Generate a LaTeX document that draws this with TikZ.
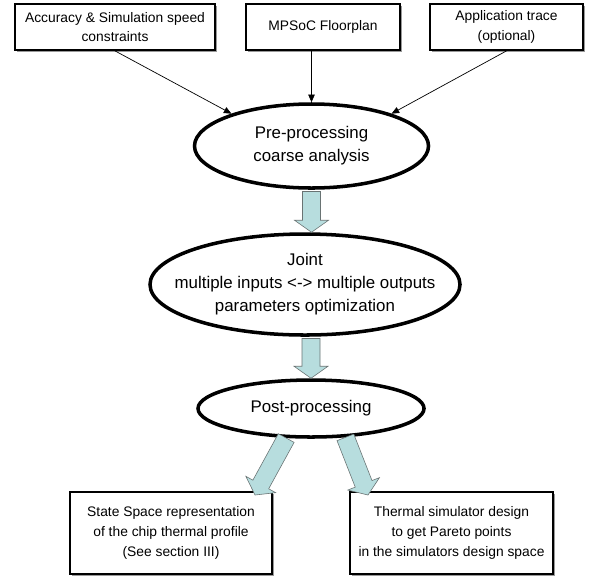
\documentclass[tikz,border=0pt]{standalone}
\usepackage{fontspec}
\setmainfont{Liberation Sans}
\usetikzlibrary{shapes.geometric,arrows.meta,calc,shadows}

\definecolor{arrowblue}{RGB}{183,221,222}
\definecolor{arrowedge}{RGB}{105,115,115}

\tikzset{
  inbox/.style={draw, line width=1.5pt, fill=white, align=center, inner sep=0pt,
    font=\fontsize{11.8}{16.5}\selectfont,
    drop shadow={shadow xshift=1.3pt, shadow yshift=-1.3pt, fill=black!40, opacity=1}},
  stage/.style={ellipse, draw, line width=3pt, fill=white, align=center, inner sep=0pt,
    font=\fontsize{14.4}{19.6}\selectfont},
  stagetext/.style={align=center, inner sep=0pt, font=\fontsize{14.4}{19.6}\selectfont},
  feed/.style={-{Triangle[length=6.5pt,width=5.5pt]}, line width=0.6pt}
}

% block arrow from #1 to #2
\newcommand{\blockarrow}[2]{%
  \coordinate (ba-h) at ($(#2)!0.36cm!(#1)$);
  \filldraw[fill=arrowblue, draw=arrowedge, line width=0.5pt, line join=miter]
    ($(#1)!0.27cm!90:(#2)$) -- ($(ba-h)!0.27cm!90:(#2)$) -- ($(ba-h)!0.51cm!90:(#2)$)
    -- (#2) -- ($(ba-h)!0.51cm!-90:(#2)$) -- ($(ba-h)!0.27cm!-90:(#2)$)
    -- ($(#1)!0.27cm!-90:(#2)$) -- cycle;
}

\begin{document}
\begin{tikzpicture}[x=0.03cm, y=-0.03cm]

  \useasboundingbox (0,0) rectangle (599,575);

  % Inputs
  \node[inbox, minimum width=6cm, minimum height=1.38cm] (acc) at (115,27)
    {Accuracy \& Simulation speed\\constraints};
  \node[inbox, minimum width=4.62cm, minimum height=1.38cm] (mpsoc) at (323,27)
    {MPSoC Floorplan};
  \node[inbox, minimum width=4.59cm, minimum height=1.38cm] (trace) at (506.5,27)
    {Application trace\\(optional)};

  % Processing stages
  \node[stage, minimum width=7.02cm, minimum height=2.52cm] (pre) at (311.5,146)
    {Pre-processing\\coarse analysis};
  \node[stage, minimum width=9.3cm, minimum height=3.03cm,
    label={[stagetext]center:{Joint\\multiple inputs <-> multiple outputs\\parameters optimization}}]
    (joint) at (305,284.5) {};
  \node[stage, minimum width=6.78cm, minimum height=1.71cm] (post) at (311,408.5)
    {Post-processing};

  % Outputs
  \node[inbox, minimum width=6.06cm, minimum height=2.46cm, font=\fontsize{11.8}{17}\selectfont] (ssr) at (171,533)
    {State Space representation\\of the chip thermal profile\\(See section III)};
  \node[inbox, minimum width=6.09cm, minimum height=2.46cm, font=\fontsize{11.8}{17}\selectfont] (tsd) at (451.5,533)
    {Thermal simulator design\\to get Pareto points\\in the simulators design space};

  % Input arrows
  \draw[feed] (acc.south) -- (pre.158);
  \draw[feed] (pre.north |- mpsoc.south) -- (pre.north);
  \draw[feed] (trace.south) -- (pre.22);

  % Block arrows
  \coordinate (a1) at ($(pre.south)+(0,1.7)$);
  \coordinate (b1) at (a1 |- joint.north);
  \blockarrow{a1}{b1}
  \coordinate (a2) at ($(post.north |- joint.south)+(0,1.7)$);
  \blockarrow{a2}{post.north}
  \coordinate (ltip) at (255,495);
  \coordinate (rtip) at (368,495);
  \blockarrow{post.230}{ltip}
  \blockarrow{post.-40}{rtip}

\end{tikzpicture}
\end{document}
